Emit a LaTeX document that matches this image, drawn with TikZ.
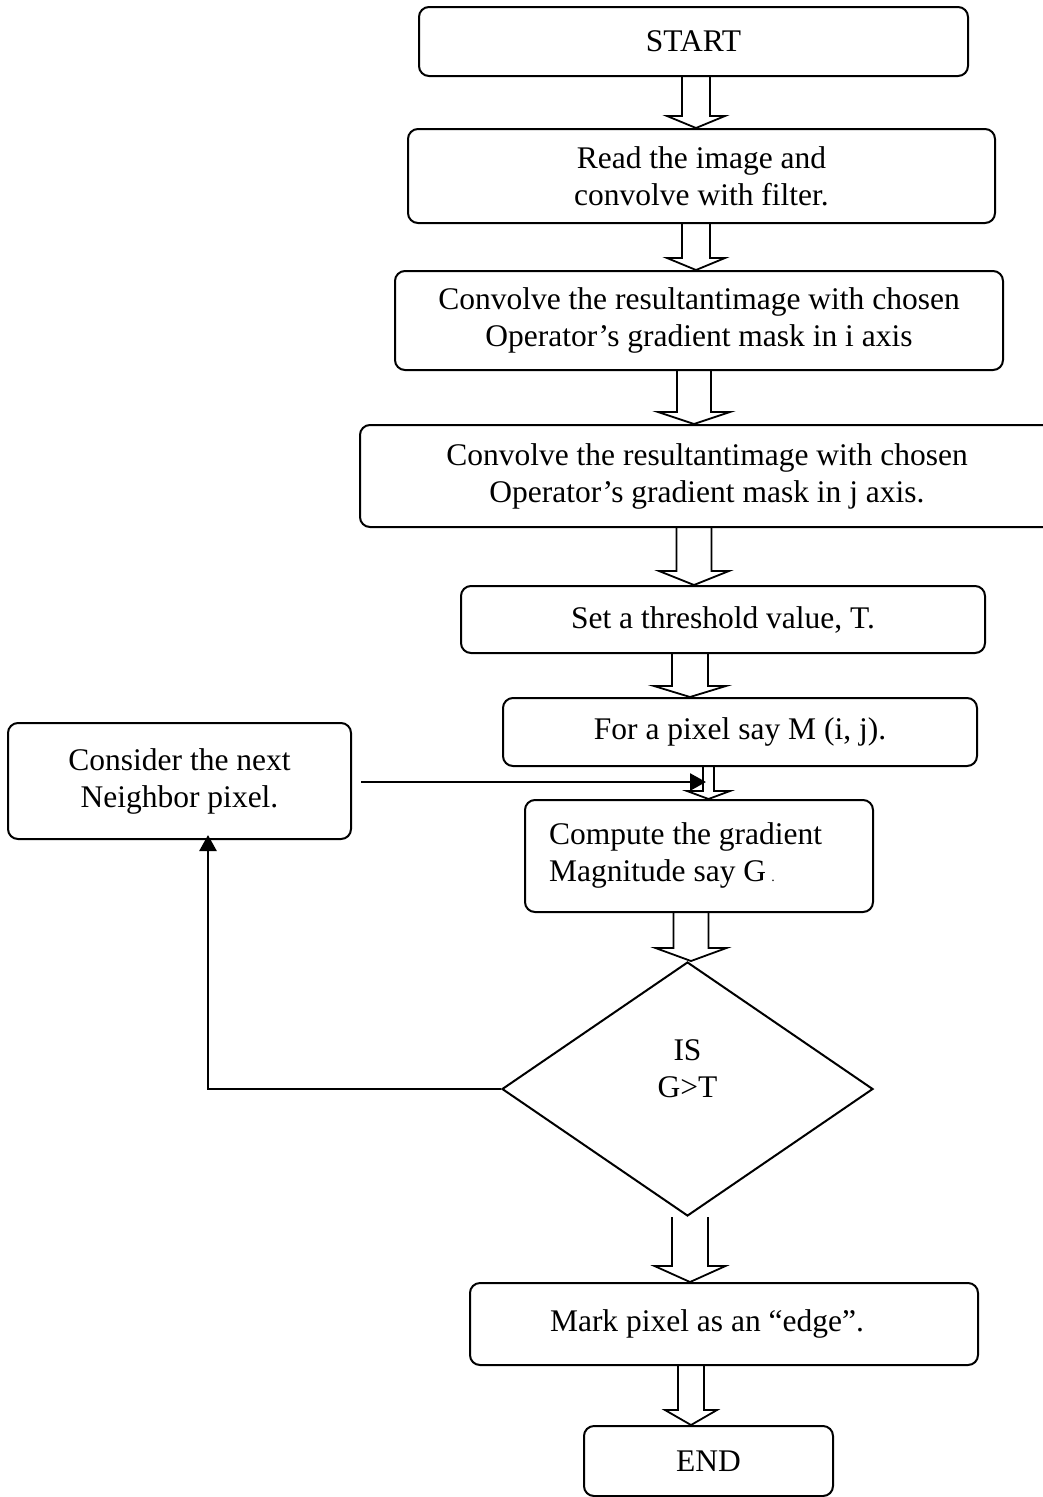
\documentclass[tikz,border=0pt]{standalone}
\usepackage{fontspec}
\setmainfont{Liberation Serif}
\usetikzlibrary{shapes.geometric,calc,arrows.meta}
\newcommand\dfont{\fontsize{31.5}{37}\selectfont}
\newcommand\blkarr[6]{%
  \draw[blk] let \p1=(#1.south), \p2=(#2.north) in
   (#3pt-#4pt,\y1) -- (#3pt-#4pt,\y2+#6pt) -- (#3pt-#5pt,\y2+#6pt) -- (#3pt,\y2)
   -- (#3pt+#5pt,\y2+#6pt) -- (#3pt+#4pt,\y2+#6pt) -- (#3pt+#4pt,\y1);}
\begin{document}
\begin{tikzpicture}[x=1pt,y=-1pt,
  box/.style={draw, line width=2pt, rounded corners=10pt, inner sep=0pt, align=center, font=\dfont},
  blk/.style={draw, line width=1.8pt, line join=miter},
  conn/.style={line width=2.6pt, -{Triangle[length=16pt,width=17pt]}}
]
\useasboundingbox (0,0) rectangle (1043,1497);

\node[box, minimum width=549pt, minimum height=69pt] (start) at (693.5,41.5) {START};
\node[box, minimum width=587pt, minimum height=94pt] (read) at (701.5,176) {Read the image and\\ convolve with filter.};
\node[box, minimum width=608pt, minimum height=99pt] (convi) at (699,320.5) {Convolve the resultantimage with chosen\\Operator’s gradient mask in i axis};
\node[box, minimum width=700pt, minimum height=102pt] (convj) at (710,476) {\hspace*{-6pt}Convolve the resultantimage with chosen\\\hspace*{-6pt}Operator’s gradient mask in j axis.};
\node[box, minimum width=524pt, minimum height=67pt] (thr) at (723,619.5) {Set a threshold value, T.};
\node[box, minimum width=474pt, minimum height=68pt] (forp) at (740,732) {For a pixel say M (i, j).};
\node[box, minimum width=343pt, minimum height=116pt] (cons) at (179.5,781) {Consider the next\\Neighbor pixel.};
\node[box, minimum width=348pt, minimum height=112pt] (comp) at (699,856) {};
\node[font=\dfont, align=left, anchor=west, inner sep=0pt] (compt) at (549,855) {Compute the gradient\\Magnitude say G\,{\fontsize{14}{14}\selectfont .}};
\node[draw, diamond, line width=2pt, minimum width=371pt, minimum height=254pt, inner sep=0pt] (dec) at (687.5,1089) {};
\node[font=\dfont, align=center, inner sep=0pt] (dect) at (687.5,1069) {IS\\G>T};
\node[box, minimum width=508pt, minimum height=82pt] (mark) at (724,1324) {\hspace*{-34pt}Mark pixel as an “edge”.};
\node[box, minimum width=249pt, minimum height=70pt] (endn) at (708.5,1461) {END};

\blkarr{start}{read}{696}{14}{29}{12}
\blkarr{read}{convi}{696}{14}{29}{12}
\blkarr{convi}{convj}{694}{17}{36}{12}
\blkarr{convj}{thr}{694}{17.5}{35}{14}
\blkarr{thr}{forp}{690}{18}{36}{11}
\blkarr{forp}{comp}{708.5}{5.5}{21.5}{8}
\blkarr{comp}{dec}{691}{17.5}{35.5}{13}
\blkarr{dec}{mark}{690}{18}{35.5}{16}
\blkarr{mark}{endn}{691}{13}{26}{15}

\coordinate (hin) at (706,782);
\draw[conn] ([xshift=9pt]cons.east |- hin) -- (hin);
\draw[conn] (dec.west) -| ([xshift=28.5pt,yshift=5pt]cons.south);
\end{tikzpicture}
\end{document}
